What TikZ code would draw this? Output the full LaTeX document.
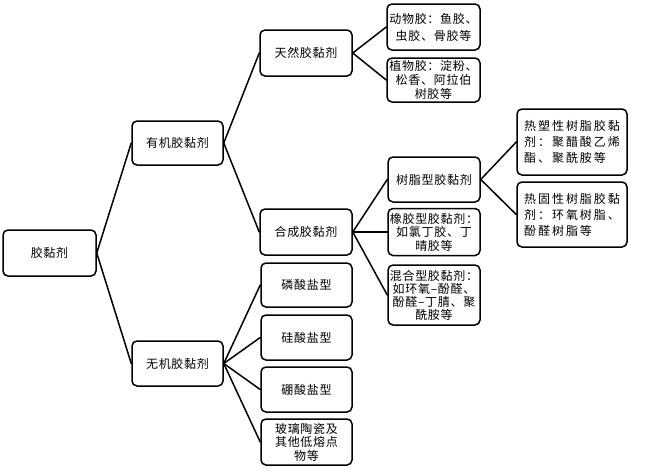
\documentclass[tikz,border=0pt]{standalone}
\usepackage{fontspec}
\setmainfont{Noto Sans CJK SC}[LetterSpace=6]
\newfontfamily\widefont{Noto Sans CJK SC}[LetterSpace=16]
\begin{document}
\begin{tikzpicture}[x=1pt, y=-1pt, line join=round, line cap=round]
	\tikzset{box/.style={draw, rounded corners=5pt, line width=1.5pt, align=center, inner sep=0pt, minimum width=92, minimum height=45, font=\fontsize{12}{15}\selectfont}}
	\useasboundingbox (0,0) rectangle (646,474);
	
	\path
	(49.5,253) node[box, minimum width=93, minimum height=46] (R) {胶黏剂}
	(177.5,143) node[box, minimum width=91, minimum height=44] (Y) {有机胶黏剂}
	(177.5,363.5) node[box, minimum width=91] (W) {无机胶黏剂}
	(306,53) node[box, minimum height=46] (T) {天然胶黏剂}
	(306,232) node[box, minimum height=46] (H) {合成胶黏剂}
	(306.5,285) node[box, minimum width=91, minimum height=44] (P1) {磷酸盐型}
	(306.5,337.5) node[box, minimum width=91] (P2) {硅酸盐型}
	(306.5,389.5) node[box, minimum width=91] (P3) {硼酸盐型}
	(306.5,442) node[box, minimum width=91, minimum height=46, font=\fontsize{12}{13.5}\selectfont] (P4) {玻璃陶瓷及\\其他低熔点\\物等}
	(433.5,27) node[box, minimum width=93, minimum height=46, font=\fontsize{12}{17}\selectfont] (D) {动物胶：鱼胶、\\虫胶、骨胶等}
	(433.5,80) node[box, minimum width=93, minimum height=44, font=\fontsize{12}{14}\selectfont] (Z) {植物胶：淀粉、\\松香、阿拉伯\\树胶等}
	(434,179.5) node[box] (S) {树脂型胶黏剂}
	(434,232) node[box, minimum height=47, font=\fontsize{12}{13.5}\selectfont] (X) {橡胶型胶黏剂：\\如氯丁胶、丁\\晴胶等}
	(434,295) node[box, minimum height=60, font=\fontsize{12}{13}\selectfont] (M) {混合型胶黏剂：\\如环氧–酚醛、\\酚醛–丁腈、聚\\酰胺等}
	(572,142) node[box, minimum width=110, minimum height=66, align=left, font=\widefont\fontsize{12}{16}\selectfont] (RS) {热塑性树脂胶黏\\剂：聚醋酸乙烯\\酯、聚酰胺等}
	(572,214.5) node[box, minimum width=110, minimum height=65, align=left, font=\widefont\fontsize{12}{16}\selectfont] (RG) {热固性树脂胶黏\\剂：环氧树脂、\\酚醛树脂等}
	;
	\foreach \a/\b in {R/Y,R/W,Y/T,Y/H,W/P1,W/P2,W/P3,W/P4,T/D,T/Z,H/S,H/X,H/M,S/RS,S/RG}
	\draw[line width=1.5pt] (\a.east)--(\b.west);
\end{tikzpicture}
\end{document}
